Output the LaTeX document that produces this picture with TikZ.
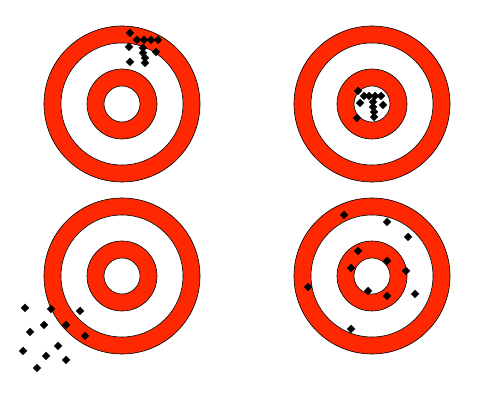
\documentclass[tikz,border=0pt]{standalone}
\usetikzlibrary{shapes.geometric}
\definecolor{targetred}{RGB}{255,40,0}
\tikzset{
    redring/.style={fill=targetred, draw=black, line width=0.35pt},
    whitering/.style={fill=white, draw=black, line width=0.35pt},
    hit/.style={diamond, fill=black, inner sep=0pt, minimum size=5pt}
}
\begin{document}
\begin{tikzpicture}[x=0.02cm, y=-0.02cm]
    \useasboundingbox (0,0) rectangle (497,401);
    % four targets
    \foreach \cx/\cy/\nm in {122/104/tl, 372/104/tr, 122/276/bl, 372/276/br} {
        \draw[redring] (\cx,\cy) circle (78);
        \draw[whitering] (\cx,\cy) circle (61);
        \draw[redring] (\cx,\cy) circle (35);
        \draw[whitering] (\cx,\cy) circle (18);
        \coordinate (\nm) at (\cx,\cy);
    }
    % top left: precise, not accurate
    \foreach \x/\y [count=\i] in {130/33, 137/40, 144/40, 151/40, 158/40, 129/47,
            143/48, 156/52, 143/53, 145/58, 145/63, 130/62} {
        \node[hit] (a\i) at (\x,\y) {};
    }
    % top right: precise and accurate
    \foreach \x/\y [count=\i] in {358/91, 364/96, 369/96, 375/96, 381/96, 360/103,
            373/102, 383/105, 373/107, 374/112, 374/117, 357/118} {
        \node[hit] (b\i) at (\x,\y) {};
    }
    % bottom left: neither
    \foreach \x/\y [count=\i] in {25/308, 51/309, 80/311, 44/325, 30/332, 66/325,
            85/336, 58/346, 23/351, 46/356, 66/360, 37/368} {
        \node[hit] (c\i) at (\x,\y) {};
    }
    % bottom right: accurate, not precise
    \foreach \x/\y [count=\i] in {344/215, 387/222, 408/237, 358/251, 387/261, 351/268,
            406/271, 308/287, 368/291, 415/294, 387/296, 351/329} {
        \node[hit] (d\i) at (\x,\y) {};
    }
\end{tikzpicture}
\end{document}
